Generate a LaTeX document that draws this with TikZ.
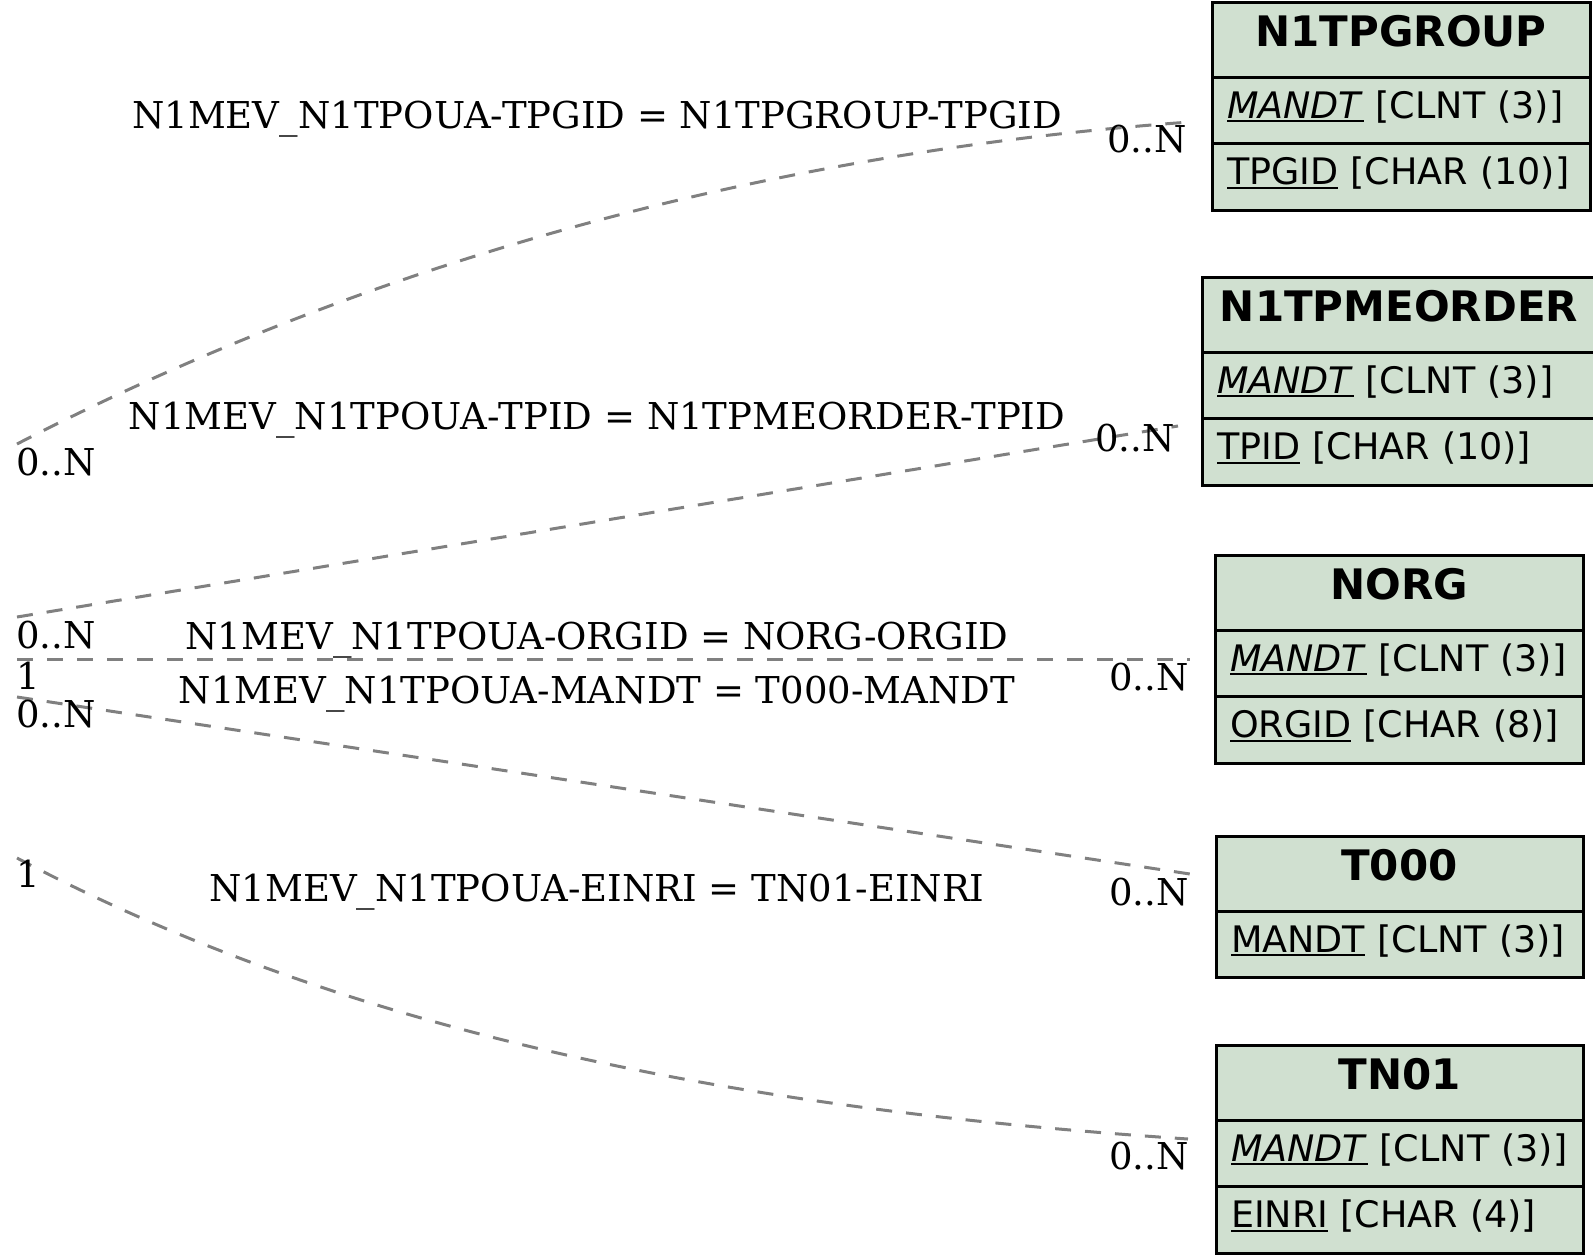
\documentclass[tikz,border=0pt]{standalone}
\usepackage{fontspec}
\setmainfont{DejaVu Serif}
\newfontfamily\tblfont{DejaVu Sans}
\usetikzlibrary{positioning}

\definecolor{tblfill}{RGB}{208,224,208}
\definecolor{relgray}{RGB}{128,128,128}

\newcommand{\keyname}[1]{\setbox0=\hbox{#1}\rlap{\rule[-4pt]{\wd0}{2pt}}\box0\relax}

\begin{document}
\begin{tikzpicture}[x=1pt, y=-1pt,
    hdr/.style={draw=black, line width=3pt, fill=tblfill, outer sep=0pt,
        inner xsep=15pt, inner ysep=0pt, minimum height=75pt,
        text width=#1, align=center, text height=31pt, text depth=17pt,
        font=\tblfont\fontsize{42}{50}\selectfont\bfseries},
    fld/.style={draw=black, line width=3pt, fill=tblfill, outer sep=0pt,
        inner xsep=15pt, inner ysep=0pt, minimum height=66.5pt,
        text width=#1, align=left, text height=27pt, text depth=11pt,
        font=\tblfont\fontsize{36.5}{44}\selectfont},
    rel/.style={draw=relgray, line width=3pt, dash pattern=on 16pt off 14pt},
    card/.style={inner sep=0pt, font=\fontsize{37}{44}\selectfont},
    lbl/.style={inner sep=0pt, anchor=base, font=\fontsize{37}{44}\selectfont},
]
    \useasboundingbox (0,0) rectangle (1593,1254);

    % tables
    \node[hdr=348pt, anchor=north west] (grp) at (1212,2) {N1TPGROUP};
    \node[fld=348pt, below=0pt of grp] (grpMandt) {\keyname{\textit{MANDT}} [CLNT (3)]};
    \node[fld=348pt, below=0pt of grpMandt] (grpTpgid) {\keyname{TPGID} [CHAR (10)]};

    \node[hdr=364pt, anchor=north west] (ord) at (1202,277) {N1TPMEORDER};
    \node[fld=364pt, below=0pt of ord] (ordMandt) {\keyname{\textit{MANDT}} [CLNT (3)]};
    \node[fld=364pt, below=0pt of ordMandt] (ordTpid) {\keyname{TPID} [CHAR (10)]};

    \node[hdr=338pt, anchor=north west] (org) at (1215,555) {NORG};
    \node[fld=338pt, below=0pt of org] (orgMandt) {\keyname{\textit{MANDT}} [CLNT (3)]};
    \node[fld=338pt, below=0pt of orgMandt] (orgOrgid) {\keyname{ORGID} [CHAR (8)]};

    \node[hdr=337pt, anchor=north west] (tzero) at (1216,836) {T000};
    \node[fld=337pt, below=0pt of tzero] (tzeroMandt) {\keyname{MANDT} [CLNT (3)]};

    \node[hdr=337pt, anchor=north west] (tn) at (1216,1045) {TN01};
    \node[fld=337pt, below=0pt of tn] (tnMandt) {\keyname{\textit{MANDT}} [CLNT (3)]};
    \node[fld=337pt, below=0pt of tnMandt] (tnEinri) {\keyname{EINRI} [CHAR (4)]};

    % relation ends
    \coordinate (s1) at (17,444);  \coordinate (e1) at (1190,122);
    \coordinate (s2) at (17,617);  \coordinate (e2) at (1178,426);
    \coordinate (s3) at (17,659);  \coordinate (e3) at (1190,659);
    \coordinate (s4) at (17,697);  \coordinate (e4) at (1190,874);
    \coordinate (s5) at (17,858);  \coordinate (e5) at (1188,1139);

    \draw[rel] (s1) .. controls (376,259) and (772,152) .. (e1);
    \draw[rel] (s2) -- (e2);
    \draw[rel] (s3) -- (e3);
    \draw[rel] (s4) -- (e4);
    \draw[rel] (s5) .. controls (372,1046) and (783,1112) .. (e5);

    % relation labels
    \node[lbl] (l1) at (597,128) {N1MEV\_N1TPOUA-TPGID = N1TPGROUP-TPGID};
    \node[lbl] (l2) at (597,429) {N1MEV\_N1TPOUA-TPID = N1TPMEORDER-TPID};
    \node[lbl] (l3) at (597,649) {N1MEV\_N1TPOUA-ORGID = NORG-ORGID};
    \node[lbl] (l4) at (597,703) {N1MEV\_N1TPOUA-MANDT = T000-MANDT};
    \node[lbl] (l5) at (597,901) {N1MEV\_N1TPOUA-EINRI = TN01-EINRI};

    % cardinalities
    \node[card, anchor=base west] (c1s) at (16,475) {0..N};
    \node[card, anchor=base east] (c1e) at (1187,152) {0..N};
    \node[card, anchor=base west] (c2s) at (16,648) {0..N};
    \node[card, anchor=base east] (c2e) at (1175,451) {0..N};
    \node[card, anchor=base west] (c3s) at (16,689) {1};
    \node[card, anchor=base east] (c3e) at (1189,690) {0..N};
    \node[card, anchor=base west] (c4s) at (16,727) {0..N};
    \node[card, anchor=base east] (c4e) at (1189,905) {0..N};
    \node[card, anchor=base west] (c5s) at (16,887) {1};
    \node[card, anchor=base east] (c5e) at (1189,1169) {0..N};
\end{tikzpicture}
\end{document}
